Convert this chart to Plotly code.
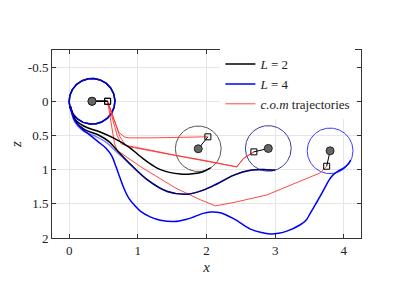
import numpy as np
import plotly.graph_objects as go

# ---- data ----
# L=2 trajectory ending at body 2
black1_x = [0.02, 0.05, 0.10, 0.25, 0.45, 0.65, 0.87, 1.09, 1.33, 1.62, 1.80, 1.95, 2.06]
black1_z = [0.08, 0.18, 0.28, 0.38, 0.45, 0.54, 0.67, 0.85, 1.00, 1.065, 1.06, 1.03, 0.975]
# L=2 trajectory ending at body 3
black2_x = [0.02, 0.05, 0.09, 0.22, 0.42, 0.58, 0.70, 0.90, 1.14, 1.43, 1.72, 1.95, 2.15, 2.40, 2.64, 2.88, 3.00]
black2_z = [0.08, 0.18, 0.29, 0.41, 0.49, 0.59, 0.72, 0.93, 1.15, 1.32, 1.36, 1.30, 1.21, 1.08, 1.01, 1.00, 1.01]
# L=4 trajectory ending at body 3
blue1_x = [0.02, 0.04, 0.08, 0.20, 0.40, 0.54, 0.68, 0.90, 1.14, 1.43, 1.72, 1.95, 2.15, 2.40, 2.64, 2.88, 3.00]
blue1_z = [0.08, 0.18, 0.30, 0.43, 0.52, 0.60, 0.73, 0.93, 1.15, 1.32, 1.36, 1.30, 1.21, 1.08, 1.01, 1.00, 1.01]
# L=4 trajectory ending at body 4
blue2_x = [0.02, 0.04, 0.08, 0.18, 0.27, 0.42, 0.54, 0.62, 0.68, 0.74, 0.80, 0.87, 0.96, 1.04, 1.18, 1.33, 1.53,
           1.70, 1.82, 1.95, 2.06, 2.20, 2.40, 2.64, 2.80, 2.93, 3.05, 3.17, 3.36, 3.45, 3.51, 3.58, 3.65, 3.72,
           3.78, 3.84, 3.92, 3.99, 4.06, 4.10]
blue2_z = [0.08, 0.18, 0.28, 0.40, 0.47, 0.59, 0.69, 0.80, 0.95, 1.12, 1.28, 1.42, 1.53, 1.61, 1.69, 1.74, 1.76,
           1.73, 1.69, 1.64, 1.62, 1.63, 1.72, 1.87, 1.92, 1.94, 1.93, 1.90, 1.81, 1.74, 1.64, 1.52, 1.40, 1.27,
           1.16, 1.08, 1.02, 0.98, 0.92, 0.86]

# centre-of-mass trajectories
com1_x = [0.56, 0.72, 0.80, 0.86, 1.19, 1.60, 2.02]
com1_z = [0.00, 0.45, 0.52, 0.535, 0.535, 0.53, 0.52]
com2_x = [0.56, 0.70, 0.755, 0.82, 1.16, 1.55, 2.00, 2.40, 2.44, 2.54, 2.69]
com2_z = [0.00, 0.50, 0.62, 0.645, 0.71, 0.79, 0.87, 0.95, 0.96, 0.835, 0.74]
com3_x = [0.56, 0.74, 0.82, 0.88, 1.16, 1.55, 2.00, 2.40, 2.44, 2.54, 2.69]
com3_z = [0.00, 0.52, 0.64, 0.665, 0.72, 0.79, 0.87, 0.95, 0.96, 0.835, 0.74]
com4_x = [0.56, 0.62, 0.66, 0.70, 1.03, 1.55, 1.91, 2.13, 2.40, 2.88, 3.17, 3.51, 3.65, 3.75]
com4_z = [0.00, 0.40, 0.62, 0.72, 0.95, 1.27, 1.44, 1.53, 1.48, 1.37, 1.25, 1.10, 1.05, 0.95]

# bodies: centre, marker, radius
body_cx = [0.333, 0.333, 1.88, 2.90, 3.80]
body_cz = [0.0, 0.0, 0.695, 0.69, 0.725]
body_col = ["black", "#0000dd", "#555555", "#3a3a9a", "#3a3aff"]
body_w = [1.5, 1.5, 1.0, 1.0, 1.0]
radius = 0.333
mark_x = [0.56, 0.56, 2.02, 2.69, 3.75]
mark_z = [0.0, 0.0, 0.52, 0.74, 0.95]

xticks = [0, 1, 2, 3, 4]
zticks = [-0.5, 0, 0.5, 1, 1.5, 2]
zticklabels = ["-0.5", "0", "0.5", "1", "1.5", "2"]

FONT = "'Liberation Serif', 'DejaVu Serif', serif"

fig = go.Figure()

# circles
th = np.linspace(0, 2 * np.pi, 200)
for cx, cz, col, w in zip(body_cx, body_cz, body_col, body_w):
    fig.add_trace(go.Scatter(x=cx + radius * np.cos(th), y=cz + radius * np.sin(th), mode="lines",
                             line=dict(color=col, width=w), showlegend=False, hoverinfo="skip"))

# red c.o.m trajectories
for xs, zs in [(com1_x, com1_z), (com2_x, com2_z), (com3_x, com3_z), (com4_x, com4_z)]:
    fig.add_trace(go.Scatter(x=xs, y=zs, mode="lines", line=dict(color="#ff3333", width=0.9),
                             showlegend=False))

# body trajectories
fig.add_trace(go.Scatter(x=black1_x, y=black1_z, mode="lines", line=dict(color="black", width=1.5, shape="spline"),
                         showlegend=False))
fig.add_trace(go.Scatter(x=black2_x, y=black2_z, mode="lines", line=dict(color="black", width=1.5, shape="spline"),
                         showlegend=False))
fig.add_trace(go.Scatter(x=blue1_x, y=blue1_z, mode="lines",
                         line=dict(color="rgba(0,0,255,0.5)", width=1.5, shape="spline"), showlegend=False))
fig.add_trace(go.Scatter(x=blue2_x, y=blue2_z, mode="lines", line=dict(color="#0000ff", width=1.5, shape="spline"),
                         showlegend=False))

# rods + markers
for i in range(len(body_cx)):
    fig.add_trace(go.Scatter(x=[body_cx[i], mark_x[i]], y=[body_cz[i], mark_z[i]], mode="lines",
                             line=dict(color="black", width=1.5 if i < 2 else 1), showlegend=False))
fig.add_trace(go.Scatter(x=body_cx, y=body_cz, mode="markers",
                         marker=dict(symbol="circle", size=8, color="#666666", line=dict(color="#222", width=1)),
                         showlegend=False))
fig.add_trace(go.Scatter(x=mark_x, y=mark_z, mode="markers",
                         marker=dict(symbol="square-open", size=6, color="black", line=dict(width=1)),
                         showlegend=False))

# legend entries
fig.add_trace(go.Scatter(x=[None], y=[None], mode="lines", line=dict(color="black", width=1.5), name="<i>L</i> = 2"))
fig.add_trace(go.Scatter(x=[None], y=[None], mode="lines", line=dict(color="#0000ff", width=1.5), name="<i>L</i> = 4"))
fig.add_trace(go.Scatter(x=[None], y=[None], mode="lines", line=dict(color="#ff3333", width=0.9),
                         name="<i>c.o.m</i> trajectories"))

axis_common = dict(showgrid=True, gridcolor="#e6e6e6", gridwidth=1, zeroline=False, showline=True,
                   linecolor="#333", linewidth=1, mirror="ticks", ticks="inside", ticklen=4, tickcolor="#333",
                   automargin=False, tickfont=dict(family=FONT, size=13, color="#222"))

fig.update_layout(
    width=391, height=291,
    margin=dict(l=44, r=38, t=42, b=61),
    paper_bgcolor="white", plot_bgcolor="white",
    font=dict(family=FONT, size=13, color="#222"),
    xaxis=dict(range=[-0.25, 4.25], tickvals=xticks, title=dict(text="<i>x</i>", standoff=4,
               font=dict(family=FONT, size=15)), **axis_common),
    yaxis=dict(range=[2, -0.75], tickvals=zticks, ticktext=zticklabels,
               title=dict(text="<i>z</i>", standoff=6, font=dict(family=FONT, size=15)), **axis_common),
    legend=dict(x=0.545, y=1.005, xanchor="left", yanchor="top", bgcolor="white", borderwidth=0,
                font=dict(family=FONT, size=13), tracegroupgap=0, itemwidth=30),
    showlegend=True,
)

fig.write_html("out.html")
